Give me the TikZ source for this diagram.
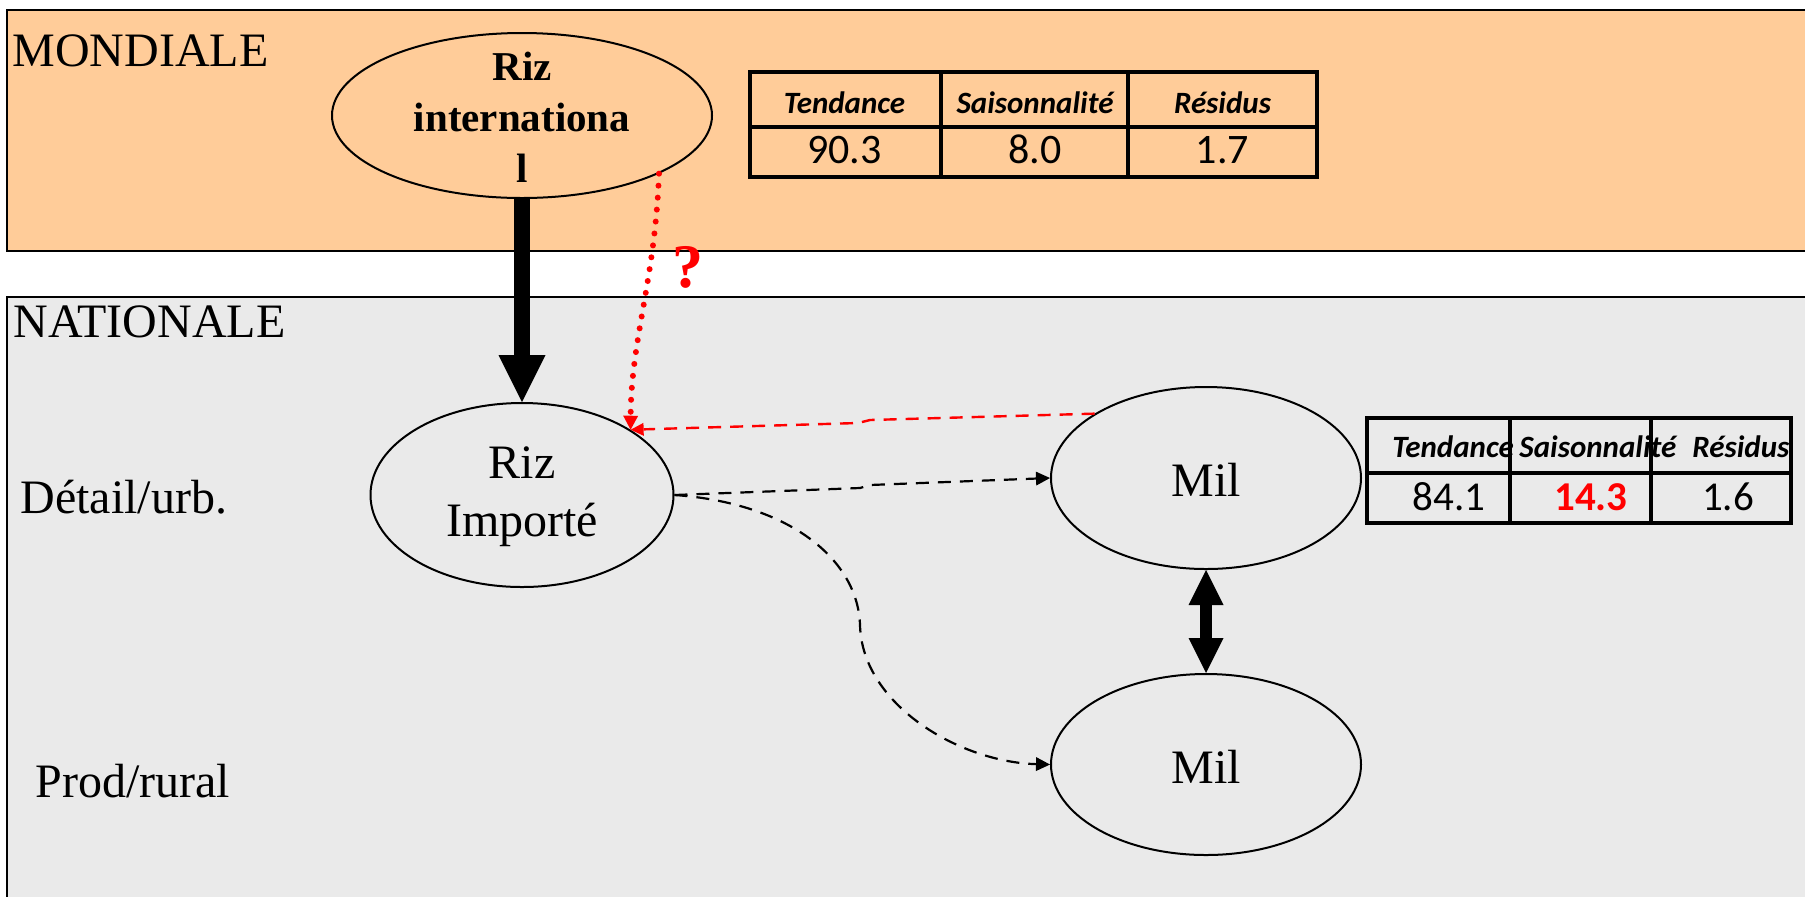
\documentclass[tikz,border=0pt]{standalone}
\usepackage{fontspec}
\setmainfont{Liberation Serif}
\newfontfamily\tabfont{Carlito}
\usetikzlibrary{shapes.geometric,arrows.meta}
\definecolor{peach}{RGB}{255,204,153}
\definecolor{natgray}{RGB}{234,234,234}
\begin{document}
\begin{tikzpicture}[x=0.5pt,y=-0.5pt,
  oval/.style={ellipse,draw=black,line width=1pt,inner sep=0pt},
  ovaltext/.style={font=\fontsize{24}{29}\selectfont,align=center},
  lvl/.style={anchor=base west,inner sep=0pt,font=\fontsize{24}{28}\selectfont},
  thead/.style={anchor=base,inner sep=0pt,font=\tabfont\bfseries\itshape\fontsize{15.5}{18}\selectfont},
  thead2/.style={anchor=base west,inner sep=0pt,font=\tabfont\bfseries\itshape\fontsize{15.5}{18}\selectfont},
  tnumA/.style={anchor=base,inner sep=0pt,font=\tabfont\fontsize{21}{24}\selectfont},
  tnumB/.style={anchor=base,inner sep=0pt,font=\tabfont\fontsize{20.5}{24}\selectfont},
  grid/.style={line width=2.2pt,line cap=rect},
  thickarrow/.style={line width=8pt,-{Triangle[length=23.5pt,width=23.5pt,line width=0pt 0]}},
  dblarrow/.style={line width=6pt,{Triangle[length=17.5pt,width=17.5pt,line width=0pt 0]}-{Triangle[length=17.5pt,width=17.5pt,line width=0pt 0]}},
  dasharrow/.style={line width=1.1pt,dash pattern=on 6.5pt off 4.5pt,-{Triangle[length=7pt,width=7pt,line width=0pt 0]}},
  reddash/.style={red,line width=1.2pt,dash pattern=on 6.5pt off 4.5pt,-{Triangle[length=6.5pt,width=6.5pt,line width=0pt 0]}},
  reddot/.style={red,line width=3pt,line cap=round,dash pattern=on 0pt off 6pt,-{Triangle[length=7pt,width=7.5pt,line width=0pt 0]}}
]
\path[use as bounding box] (0,0) rectangle (1805,896);
\clip (0,0) rectangle (1805,896);
\fill[white] (0,0) rectangle (1805,896);

% bands
\draw[fill=peach,line width=1.2pt] (7,10) rectangle (1830,251);
\draw[fill=natgray,line width=1.2pt] (7,297) rectangle (1830,920);

% level labels
\node[lvl] (mond) at (12,66) {MONDIALE};
\node[lvl] (nat) at (13,337) {NATIONALE};
\node[lvl] (det) at (20,513) {Détail/urb.};
\node[lvl] (prod) at (35,797) {Prod/rural};

% ellipses
\node[oval,fill=peach,minimum width=190pt,minimum height=82.5pt,
  label={[font=\bfseries\fontsize{20.5}{25.5}\selectfont,align=center,yshift=-1pt]center:Riz\\internationa\\l}] (ri) at (522,115.5) {};
\node[oval,minimum width=151.5pt,minimum height=92pt,
  label={[ovaltext,yshift=-1pt]center:Riz\\Importé}] (rimp) at (522,495) {};
\node[oval,minimum width=155pt,minimum height=91pt,
  label={[ovaltext,yshift=-1pt]center:Mil}] (mil1) at (1206,478) {};
\node[oval,minimum width=155pt,minimum height=90.5pt,
  label={[ovaltext,yshift=-1pt]center:Mil}] (mil2) at (1206,764.5) {};

% connectors
\draw[thickarrow] (ri.south) -- (rimp.north);
\draw[dblarrow] (mil1.south) -- (mil2.north);
\coordinate (k1) at (860,488);
\coordinate (k2) at (870,485);
\draw[dasharrow] (rimp.east) -- (k1) -- (k2) -- (mil1.west);
\coordinate (m1) at (860,625);
\draw[dasharrow] (rimp.east) .. controls (790,503) and (858,560) .. (m1)
  .. controls (862,705) and (960,762) .. (mil2.west);
\coordinate (r1) at (870,420);
\coordinate (r2) at (858,423);
\draw[reddash] (mil1.150) -- (r1) -- (r2) -- (rimp.31);
\draw[reddot] (ri.-23.4) .. controls (655,280) and (631,340) .. (rimp.31);
\node[red,font=\bfseries\fontsize{31}{33}\selectfont,inner sep=0pt] (q) at (688,267) {?};

% table 1 (mondiale)
\node[thead] (t1a) at (844.5,113) {Tendance};
\node[thead] (t1b) at (1035,113) {Saisonnalité};
\node[thead] (t1c) at (1222.5,113) {Résidus};
\node[tnumA] (t1d) at (844.5,163) {90.3};
\node[tnumA] (t1e) at (1035,163) {8.0};
\node[tnumA] (t1f) at (1222.5,163) {1.7};
\draw[grid] (750,72) rectangle (1317,177);
\draw[grid] (750,127) -- (1317,127);
\draw[grid] (941,72) -- (941,177);
\draw[grid] (1128,72) -- (1128,177);

% table 2 (nationale)
\node[thead2] (t2a) at (1392,457) {Tendance};
\node[thead2] (t2b) at (1519,457) {Saisonnalité};
\node[thead2] (t2c) at (1692,457) {Résidus};
\node[tnumB] (t2d) at (1449,510) {84.1};
\node[tnumB,red,font=\tabfont\bfseries\fontsize{20.5}{24}\selectfont] (t2e) at (1591,510) {14.3};
\node[tnumB] (t2f) at (1728,510) {1.6};
\draw[grid] (1367,418) rectangle (1791,523);
\draw[grid] (1367,473) -- (1791,473);
\draw[grid] (1510,418) -- (1510,523);
\draw[grid] (1651,418) -- (1651,523);
\end{tikzpicture}
\end{document}
